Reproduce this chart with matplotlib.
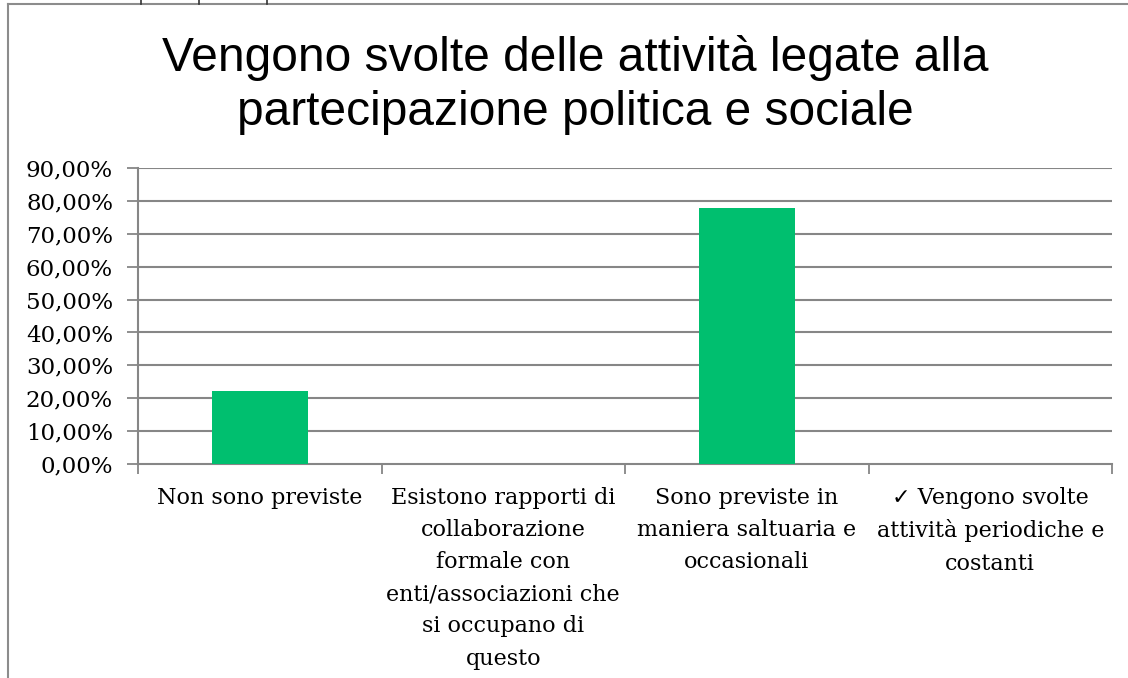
import matplotlib.pyplot as plt
from matplotlib.lines import Line2D

categories = [
    "Non sono previste",
    "Esistono rapporti di\ncollaborazione\nformale con\nenti/associazioni che\nsi occupano di\nquesto",
    "Sono previste in\nmaniera saltuaria e\noccasionali",
    "\u2713 Vengono svolte\nattività periodiche e\ncostanti",
]
values = [22.22, 0.0, 77.78, 0.0]
yticks = [0, 10, 20, 30, 40, 50, 60, 70, 80, 90]
title_lines = ["Vengono svolte delle attività legate alla",
               "partecipazione politica e sociale"]

W, H = 1128, 678
fig = plt.figure(figsize=(W / 100, H / 100), dpi=100)
ax = fig.add_axes([138 / W, 1 - 464 / H, (1112 - 138) / W, (464 - 168) / H])

grid_c = "#868686"
serif = ["DejaVu Serif", "DejaVu Sans"]

x = list(range(len(categories)))
ax.bar(x, values, width=0.395, color="#00BF6F", zorder=3)

ax.set_xlim(-0.5, len(categories) - 0.5)
ax.set_ylim(0, 90)
ax.set_yticks(yticks)
ax.set_yticklabels([f"{v},00%" for v in yticks], family=serif, fontsize=16.5)
for y in yticks[1:]:
    ax.axhline(y, color=grid_c, lw=1.5, zorder=1)

# category boundaries as ticks, labels at centres
ax.set_xticks([i - 0.5 for i in range(len(categories) + 1)])
ax.set_xticklabels([])
ax.tick_params(axis="x", length=7, width=1.3, color=grid_c)
ax.tick_params(axis="y", length=8, width=1.3, color=grid_c, pad=10)
for i, lab in enumerate(categories):
    ax.text(i, -6.9, lab, ha="center", va="top", family=serif, fontsize=16,
            linespacing=1.6)

for s in ["top", "right"]:
    ax.spines[s].set_visible(False)
for s in ["left", "bottom"]:
    ax.spines[s].set_color(grid_c)
    ax.spines[s].set_linewidth(1.5)

for line, base in zip(title_lines, [71, 125]):
    fig.text(575 / W, 1 - base / H, line, ha="center", va="baseline",
             family="Liberation Sans", fontsize=34.5)

# outer frame of the chart object
fig.add_artist(Line2D([8 / W, 1.0], [1 - 4 / H, 1 - 4 / H], color="#8c8c8c", lw=1.5))
fig.add_artist(Line2D([8 / W, 8 / W], [0, 1 - 4 / H], color="#8c8c8c", lw=1.5))
for px in [141, 199, 267]:
    fig.add_artist(Line2D([px / W, px / W], [1 - 4 / H, 1.0], color="#333333", lw=1.2))

fig.savefig("out.png", dpi=100)
